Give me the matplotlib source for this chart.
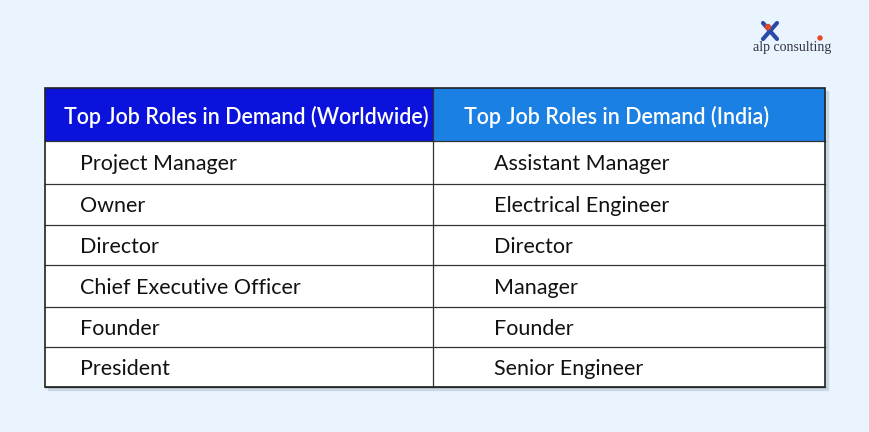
import matplotlib
matplotlib.use("Agg")
import matplotlib.pyplot as plt
from matplotlib.patches import Rectangle, Circle

headers = ["Top Job Roles in Demand (Worldwide)", "Top Job Roles in Demand (India)"]
worldwide = ["Project Manager", "Owner", "Director", "Chief Executive Officer", "Founder", "President"]
india = ["Assistant Manager", "Electrical Engineer", "Director", "Manager", "Founder", "Senior Engineer"]

plt.rcParams['font.family'] = ['Lato', 'DejaVu Sans']
fig = plt.figure(figsize=(8.7, 4.32), dpi=100)
fig.patch.set_facecolor("#e9f4fe")
ax = fig.add_axes([0, 0, 1, 1])
ax.set_xlim(0, 870); ax.set_ylim(432, 0); ax.axis("off")

L, M, R = 45, 433, 825
top, hb = 88, 141
rows = [141, 184, 225, 265, 307, 347, 387]
ax.add_patch(Rectangle((L + 3, top + 3), R - L, rows[-1] - top, color="#c9d6e3", zorder=0))
ax.add_patch(Rectangle((L, hb), R - L, rows[-1] - hb, facecolor="white", edgecolor="none", zorder=1))
ax.add_patch(Rectangle((L, top), M - L, hb - top, facecolor="#0a12dc", edgecolor="none", zorder=1))
ax.add_patch(Rectangle((M, top), R - M, hb - top, facecolor="#1b80e4", edgecolor="none", zorder=1))
ax.text(64, (top + hb) / 2, headers[0], color="white", fontsize=15.5, fontweight="semibold",
        ha="left", va="center_baseline", zorder=3)
ax.text(M + 31, (top + hb) / 2, headers[1], color="white", fontsize=15.5, fontweight="semibold",
        ha="left", va="center_baseline", zorder=3)
for i, (w, d) in enumerate(zip(worldwide, india)):
    yc = (rows[i] + rows[i + 1]) / 2
    ax.text(80, yc, w, fontsize=15.5, color="#111111", ha="left", va="center_baseline", zorder=3)
    ax.text(494, yc, d, fontsize=15.5, color="#111111", ha="left", va="center_baseline", zorder=3)
    ax.plot([L, R], [rows[i + 1], rows[i + 1]], color="#333333", lw=0.9, zorder=2)
ax.plot([L, R], [hb, hb], color="#333333", lw=0.9, zorder=2)
ax.plot([M, M], [top, rows[-1]], color="#333333", lw=0.9, zorder=2)
ax.add_patch(Rectangle((L, top), R - L, rows[-1] - top, fill=False, edgecolor="#222222", lw=1.2, zorder=4))

# logo
ax.text(792, 48, "alp consulting", fontsize=10, color="#333344", ha="center", va="center",
        family=["Liberation Serif", "DejaVu Serif"])
for dx, dy in [(-7, -8), (7, -8), (-7, 8), (7, 8)]:
    ax.plot([770, 770 + dx], [31, 31 + dy], color="#2a4aa8", lw=3, solid_capstyle="round")
ax.add_patch(Circle((768, 27), 2.5, color="#e04a2a", zorder=5))
ax.add_patch(Circle((820, 38), 2, color="#e04a2a", zorder=5))
fig.savefig("out.png", dpi=100, facecolor=fig.get_facecolor())
